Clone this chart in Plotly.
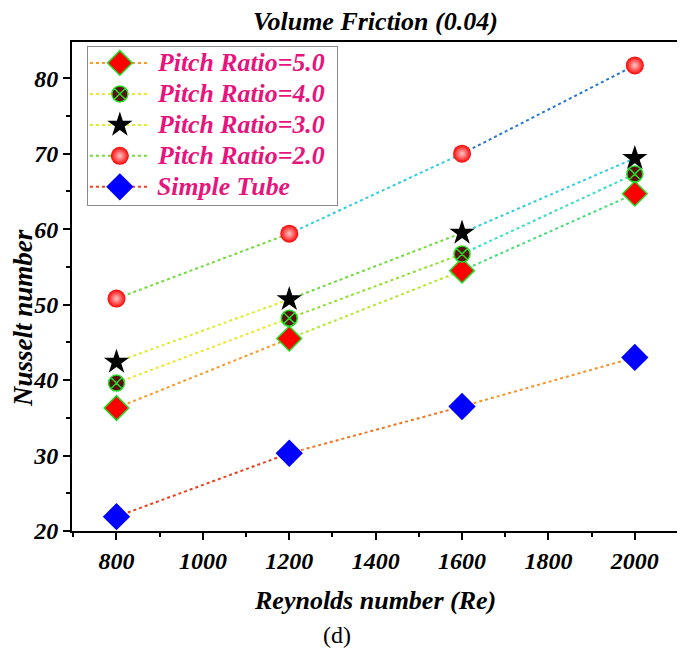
import plotly.graph_objects as go
from plotly.colors import sample_colorscale

reynolds = [800, 1200, 1600, 2000]
pr50 = [36.3, 45.5, 54.5, 64.7]
pr40 = [39.6, 48.2, 56.7, 67.3]
pr30 = [42.4, 50.7, 59.5, 69.4]
pr20 = [50.8, 59.4, 70.0, 81.7]
simple = [21.9, 30.3, 36.5, 43.0]

names = ["Pitch Ratio=5.0", "Pitch Ratio=4.0", "Pitch Ratio=3.0", "Pitch Ratio=2.0", "Simple Tube"]
series = [pr50, pr40, pr30, pr20, simple]
x_ticks = [800, 1000, 1200, 1400, 1600, 1800, 2000]

YMIN, YMAX = 20, 84.8
stops = [(20, "#e41a1c"), (28, "#ef4a1e"), (34, "#f07a22"), (41, "#f59a25"), (44, "#f0e82a"),
         (48, "#d4ef28"), (53, "#86de30"), (58, "#52d84a"), (63, "#30e0e0"), (70, "#2a90e0"),
         (84.8, "#1f50c0")]
cscale = [[(v - YMIN) / (YMAX - YMIN), c] for v, c in stops]


def ycolor(v):
    return sample_colorscale(cscale, [(v - YMIN) / (YMAX - YMIN)])[0]


markers = [
    dict(symbol="diamond", size=19, color="#ff0000", line=dict(color="#22dd22", width=1.5)),
    dict(symbol="circle-x", size=16, color="#5a1010", line=dict(color="#22dd22", width=1.5)),
    dict(symbol="star", size=19, color="#000000", line=dict(color="#000000", width=0)),
    dict(symbol="circle", size=18, color="#ff0000", line=dict(color="#ee0000", width=0),
         gradient=dict(type="radial", color="#ffc8c8")),
    dict(symbol="diamond", size=21, color="#0000ff", line=dict(color="#0000ff", width=0)),
]

fig = go.Figure()
FONT = "Liberation Serif"
PINK = "#e6147c"

# dotted segments, coloured by y level (colour-mapped line)
for ys in series:
    for i in range(len(reynolds) - 1):
        mid = (ys[i] + ys[i + 1]) / 2
        fig.add_trace(go.Scatter(x=reynolds[i:i + 2], y=ys[i:i + 2], mode="lines",
                                 line=dict(color=ycolor(mid), width=2, dash="dot"),
                                 showlegend=False, hoverinfo="skip"))

# markers
for nm, ys, mk in zip(names, series, markers):
    fig.add_trace(go.Scatter(x=reynolds, y=ys, mode="markers", marker=mk, name=nm,
                             showlegend=False))

# custom legend drawn in an overlay box (x2/y2 in 0..1 box units)
LEG_TOP, LEG_STEP = 0.101, 0.196
annotations = []
for k, (nm, ys, mk) in enumerate(zip(names, series, markers)):
    yy = 1 - (LEG_TOP + k * LEG_STEP)
    c = ycolor((ys[0] + ys[1]) / 2)
    fig.add_trace(go.Scatter(x=[0.008, 0.248], y=[yy, yy], mode="lines", xaxis="x2", yaxis="y2",
                             line=dict(color=c, width=2, dash="dot"), showlegend=False,
                             hoverinfo="skip"))
    fig.add_trace(go.Scatter(x=[0.128], y=[yy], mode="markers", xaxis="x2", yaxis="y2",
                             marker=mk, showlegend=False, hoverinfo="skip"))
    annotations.append(dict(text=nm, x=0.268, y=yy, xref="x2", yref="y2", showarrow=False,
                            xanchor="left", yanchor="middle",
                            font=dict(family=FONT, size=25.8, color=PINK, weight="bold",
                                      style="italic")))

axis_common = dict(showline=True, linecolor="black", linewidth=2, mirror=True,
                   ticks="outside", tickcolor="black", ticklen=7, tickwidth=2,
                   showgrid=False, zeroline=False,
                   tickfont=dict(family=FONT, size=24, color="black", weight="bold", style="italic"))

xaxis_main = dict(range=[697, 2100], tickmode="array", tickvals=x_ticks,
                  minor=dict(ticks="outside", ticklen=4, tickwidth=2, tickcolor="black",
                             dtick=100, tick0=700),
                  **axis_common)
yaxis_main = dict(range=[YMIN, YMAX], dtick=10, tick0=20,
                  minor=dict(ticks="outside", ticklen=4, tickwidth=2, tickcolor="black",
                             dtick=5, tick0=25),
                  **axis_common)

box_axis = dict(range=[0, 1], showline=True, mirror=True, linecolor="#8a8a8a", linewidth=1,
                ticks="", showticklabels=False, showgrid=False, zeroline=False, fixedrange=True)

annotations += [
    dict(text="Volume Friction (0.04)", x=0.5, y=1, xref="paper", yref="paper",
         yshift=21, showarrow=False, xanchor="center", yanchor="middle",
         font=dict(family=FONT, size=26, color="black", weight="bold", style="italic")),
    dict(text="Reynolds number (Re)", x=0.5, y=0, xref="paper", yref="paper",
         yshift=-69, showarrow=False, xanchor="center", yanchor="middle",
         font=dict(family=FONT, size=26, color="black", weight="bold", style="italic")),
    dict(text="(d)", x=0.4375, y=0, xref="paper", yref="paper",
         yshift=-104, showarrow=False, xanchor="center", yanchor="middle",
         font=dict(family=FONT, size=24, color="black")),
    dict(text="Nusselt number", x=0, y=0.4356, xref="paper", yref="paper",
         xshift=-49, showarrow=False, xanchor="center", yanchor="middle", textangle=-90,
         font=dict(family=FONT, size=27, color="black", weight="bold", style="italic")),
]

fig.update_layout(
    width=677, height=644,
    margin=dict(l=64, r=5, t=34, b=121),
    plot_bgcolor="white", paper_bgcolor="white",
    showlegend=False,
    xaxis=xaxis_main,
    yaxis=yaxis_main,
    xaxis2=dict(domain=[0.0263, 0.4375], anchor="y2", **box_axis),
    yaxis2=dict(domain=[0.6667, 0.9898], anchor="x2", **box_axis),
    annotations=annotations,
)

fig.write_html("out.html")
